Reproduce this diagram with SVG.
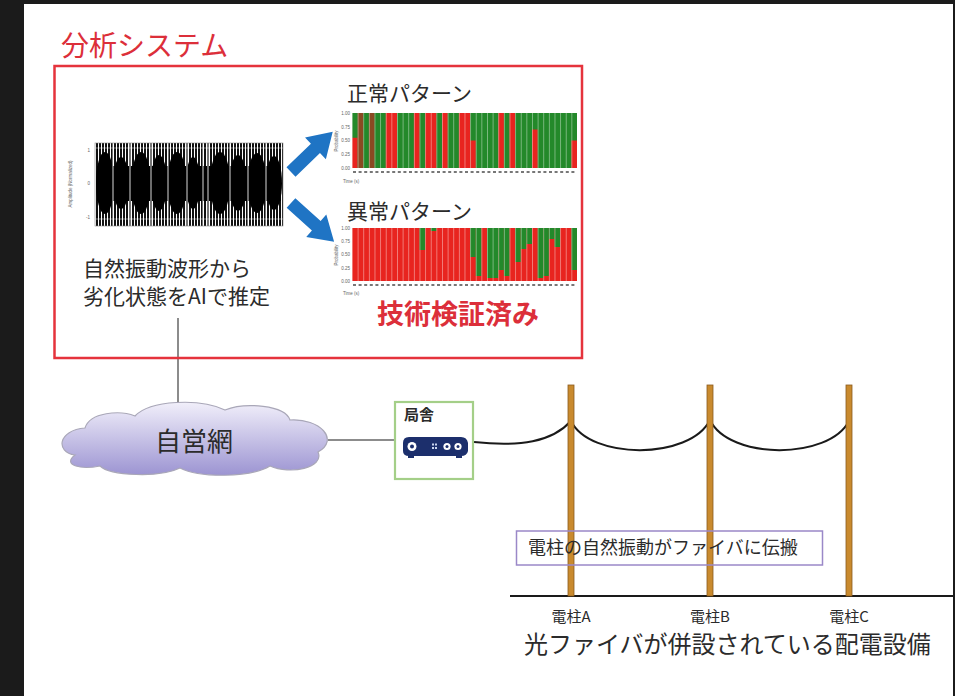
<svg xmlns="http://www.w3.org/2000/svg" width="955" height="696" viewBox="0 0 955 696">
  <defs>
    <style>
      .jp { font-family: "Noto Sans CJK JP", "Noto Sans", sans-serif; }
      .dark { fill: #2b2b2b; }
      .red { fill: #dc2f3a; }
      .tick { font-family: "Liberation Sans", sans-serif; font-size: 4.5px; fill: #666; }
      .pole { fill: #c98a2e; stroke: #8a5a1e; stroke-width: 0.8; }
      .conn { fill: none; stroke: #666; stroke-width: 1.5; }
      .wire { fill: none; stroke: #1a1a1a; stroke-width: 2; }
      .g { fill: #23892a; }
      .r { fill: #e8241f; }
      .br { fill: #8a4a22; }
    </style>
    <pattern id="stripes" width="3" height="10" patternUnits="userSpaceOnUse">
      <rect x="0" y="0" width="2" height="10" fill="#111"/>
    </pattern>
    <pattern id="colsep" x="352" width="5.625" height="10" patternUnits="userSpaceOnUse">
      <rect x="0" y="0" width="0.7" height="10" fill="#fff" opacity="0.55"/>
    </pattern>
    <linearGradient id="cloudFill" x1="0" y1="0" x2="0" y2="1">
      <stop offset="0" stop-color="#f1effa"/>
      <stop offset="1" stop-color="#9c94d2"/>
    </linearGradient>
    <!-- thick block arrow pointing along +x -->
    <polygon id="blockArrow" points="0,-6.5 34,-6.5 34,-15 58,0 34,15 34,6.5 0,6.5"/>
  </defs>

  <!-- frame -->
  <rect x="0" y="0" width="955" height="696" fill="#1b1b1b"/>
  <rect x="24" y="4" width="929" height="692" fill="#ffffff"/>

  <!-- connectors -->
  <g id="connectors">
    <line class="conn" x1="178" y1="318" x2="178" y2="412"/>
    <line class="conn" x1="328" y1="440" x2="395" y2="440"/>
    <path class="wire" d="M474,442 C520,447 552,442 571,421"/>
    <path class="wire" d="M571,421 C590,460 690,460 710,420"/>
    <path class="wire" d="M710,420 C729,460 829,460 849,421"/>
  </g>

  <!-- analysis system -->
  <g id="analysis-system">
    <text class="jp red" x="61" y="56" font-size="28">分析システム</text>
    <rect x="54.5" y="66" width="527.5" height="292" fill="none" stroke="#e5333c" stroke-width="2.5"/>
  </g>

  <!-- waveform -->
  <g id="waveform">
    <text class="tick" transform="translate(72,184) rotate(-90)" text-anchor="middle">Amplitude (Normalized)</text>
    <text class="tick" x="90" y="151.5" text-anchor="end">1</text>
    <text class="tick" x="90" y="185" text-anchor="end">0</text>
    <text class="tick" x="90" y="219" text-anchor="end">-1</text>
    <rect x="95" y="143" width="188" height="83" fill="url(#stripes)"/>
    <g fill="#000">
      <rect x="97" y="166" width="184" height="35"/>
      <ellipse cx="105" cy="183" rx="9" ry="31"/>
      <ellipse cx="121" cy="183" rx="8" ry="26"/>
      <ellipse cx="141" cy="183" rx="9.5" ry="31"/>
      <ellipse cx="159" cy="183" rx="8" ry="28"/>
      <ellipse cx="177" cy="183" rx="9.5" ry="31"/>
      <ellipse cx="193" cy="183" rx="7" ry="26"/>
      <ellipse cx="220" cy="183" rx="10" ry="31"/>
      <ellipse cx="238" cy="183" rx="8.5" ry="28"/>
      <ellipse cx="257" cy="183" rx="9.5" ry="30"/>
      <ellipse cx="274" cy="183" rx="8" ry="27"/>
    </g>
    <g stroke="#fff" stroke-width="1" opacity="0.85">
      <line x1="113" y1="143" x2="113" y2="226"/>
      <line x1="130" y1="143" x2="130" y2="226"/>
      <line x1="151" y1="143" x2="151" y2="226"/>
      <line x1="168" y1="143" x2="168" y2="226"/>
      <line x1="187" y1="143" x2="187" y2="226"/>
      <line x1="203" y1="143" x2="203" y2="226"/>
      <line x1="208" y1="143" x2="208" y2="226"/>
      <line x1="230" y1="143" x2="230" y2="226"/>
      <line x1="248" y1="143" x2="248" y2="226"/>
      <line x1="266" y1="143" x2="266" y2="226"/>
    </g>
    <g stroke="#fff" stroke-width="0.8" opacity="0.6">
      <line x1="95" y1="148" x2="283" y2="148"/>
      <line x1="95" y1="219" x2="283" y2="219"/>
    </g>
    <rect x="95" y="143" width="188" height="83" fill="none" stroke="#888" stroke-width="0.6"/>
    <text class="jp dark" x="83" y="276" font-size="21">自然振動波形から</text>
    <text class="jp dark" x="83" y="304" font-size="21">劣化状態をAIで推定</text>
  </g>

  <!-- arrows -->
  <g id="arrows" fill="#1f74c4">
    <use href="#blockArrow" transform="translate(291,172) rotate(-44)"/>
    <use href="#blockArrow" transform="translate(291,203) rotate(42)"/>
  </g>

  <!-- normal pattern chart -->
  <g id="normal-pattern">
    <text class="jp dark" x="347" y="101" font-size="21">正常パターン</text>
    <text class="tick" transform="translate(338,141) rotate(-90)" text-anchor="middle">Probability</text>
    <text class="tick" x="350" y="115" text-anchor="end">1.00</text>
    <text class="tick" x="350" y="128.5" text-anchor="end">0.75</text>
    <text class="tick" x="350" y="142" text-anchor="end">0.50</text>
    <text class="tick" x="350" y="156" text-anchor="end">0.25</text>
    <text class="tick" x="350" y="169.5" text-anchor="end">0.00</text>
    <rect class="g" x="352" y="113" width="225" height="55"/>
    <rect class="r" x="352" y="137.75" width="5.625" height="30.25"/>
    <rect class="br" x="357.625" y="113" width="5.625" height="55"/>
    <rect class="br" x="368.875" y="113" width="5.625" height="55"/>
    <rect class="r" x="385.75" y="113" width="11.25" height="55"/>
    <rect class="r" x="413.875" y="113" width="5.625" height="55"/>
    <rect class="r" x="425.125" y="113" width="11.25" height="55"/>
    <rect class="r" x="442" y="113" width="5.625" height="55"/>
    <rect class="r" x="458.875" y="113" width="11.25" height="55"/>
    <rect class="r" x="470.125" y="140.5" width="5.625" height="27.5"/>
    <rect class="r" x="498.25" y="113" width="5.625" height="55"/>
    <rect class="r" x="509.5" y="113" width="5.625" height="55"/>
    <rect class="r" x="532" y="129.5" width="5.625" height="38.5"/>
    <rect class="r" x="571.375" y="140.5" width="5.625" height="27.5"/>
    <rect x="352" y="113" width="225" height="55" fill="url(#colsep)"/>
    <line x1="353" y1="172" x2="577" y2="172" stroke="#777" stroke-width="2" stroke-dasharray="3,2.6"/>
    <text class="tick" x="343" y="183">Time (s)</text>
  </g>

  <!-- abnormal pattern chart -->
  <g id="abnormal-pattern">
    <text class="jp dark" x="347" y="219" font-size="21">異常パターン</text>
    <text class="tick" transform="translate(338,255) rotate(-90)" text-anchor="middle">Probability</text>
    <text class="tick" x="350" y="230" text-anchor="end">1.00</text>
    <text class="tick" x="350" y="243" text-anchor="end">0.75</text>
    <text class="tick" x="350" y="256" text-anchor="end">0.50</text>
    <text class="tick" x="350" y="269.5" text-anchor="end">0.25</text>
    <text class="tick" x="350" y="282.5" text-anchor="end">0.00</text>
    <rect class="r" x="352" y="228" width="225" height="53"/>
    <rect class="g" x="419.5" y="228" width="5.625" height="22"/>
    <rect class="g" x="430.75" y="228" width="5.625" height="3"/>
    <rect class="g" x="470.125" y="228" width="5.625" height="29"/>
    <rect class="g" x="475.75" y="228" width="5.625" height="48"/>
    <rect class="g" x="487" y="228" width="11.25" height="50"/>
    <rect class="g" x="498.25" y="228" width="5.625" height="42"/>
    <rect class="g" x="503.875" y="228" width="5.625" height="48"/>
    <rect class="g" x="515.125" y="228" width="5.625" height="34"/>
    <rect class="g" x="520.75" y="228" width="5.625" height="21"/>
    <rect class="g" x="526.375" y="228" width="5.625" height="16"/>
    <rect class="g" x="537.625" y="228" width="5.625" height="50"/>
    <rect class="g" x="543.25" y="228" width="5.625" height="48"/>
    <rect class="g" x="548.875" y="228" width="5.625" height="11"/>
    <rect class="g" x="554.5" y="228" width="5.625" height="19"/>
    <rect class="g" x="571.375" y="228" width="5.625" height="42"/>
    <rect x="352" y="228" width="225" height="53" fill="url(#colsep)"/>
    <line x1="353" y1="285" x2="577" y2="285" stroke="#777" stroke-width="2" stroke-dasharray="3,2.6"/>
    <text class="tick" x="343" y="295">Time (s)</text>
  </g>

  <g id="verified">
    <text class="jp red" x="377" y="324" font-size="27" font-weight="bold">技術検証済み</text>
  </g>

  <!-- private network cloud -->
  <g id="private-network">
    <path d="M75,455 C55,452 58,430 85,428 C90,412 120,410 135,416 C150,400 200,398 225,410 C245,402 285,405 290,420 C320,418 340,440 318,452 C325,468 290,475 270,466 C250,478 200,478 180,468 C160,478 110,476 100,466 C80,470 62,465 75,455 Z" fill="url(#cloudFill)" stroke="#a9a7b8" stroke-width="1.2"/>
    <text class="jp dark" x="194" y="451" font-size="26" text-anchor="middle">自営網</text>
  </g>

  <!-- central office -->
  <g id="central-office">
    <rect x="395" y="402" width="78" height="77" fill="#fff" stroke="#a4cf88" stroke-width="2.2"/>
    <text class="jp dark" x="404" y="420" font-size="15" font-weight="bold">局舎</text>
    <path d="M409,437 H461 Q467,437 468,443 V451 Q467,456 461,456 H409 Q403,456 403,451 V443 Q403,437 409,437 Z" fill="#1c2f6c"/>
    <rect x="408" y="455" width="6" height="3" fill="#1c2f6c"/>
    <rect x="456" y="455" width="6" height="3" fill="#1c2f6c"/>
    <circle cx="412" cy="446.5" r="4.5" fill="#fff"/>
    <circle cx="412" cy="446.5" r="2" fill="#1c2f6c"/>
    <g fill="#c9d6f0">
      <rect x="432" y="443.5" width="2" height="2"/>
      <rect x="435" y="443.5" width="2" height="2"/>
      <rect x="432" y="447" width="2" height="2"/>
      <rect x="435" y="447" width="2" height="2"/>
    </g>
    <circle cx="447" cy="446.5" r="3.6" fill="#fff"/>
    <circle cx="447" cy="446.5" r="1.5" fill="#1c2f6c"/>
    <circle cx="458" cy="446.5" r="3.6" fill="#fff"/>
    <circle cx="458" cy="446.5" r="1.5" fill="#1c2f6c"/>
  </g>

  <!-- ground -->
  <line x1="510" y1="596" x2="953" y2="596" stroke="#1a1a1a" stroke-width="2"/>

  <!-- utility poles -->
  <g id="pole-a">
    <rect class="pole" x="568" y="385" width="6" height="211"/>
    <text class="jp dark" x="571" y="622" font-size="15" text-anchor="middle">電柱A</text>
  </g>
  <g id="pole-b">
    <rect class="pole" x="707" y="385" width="6" height="211"/>
    <text class="jp dark" x="710" y="622" font-size="15" text-anchor="middle">電柱B</text>
  </g>
  <g id="pole-c">
    <rect class="pole" x="846" y="385" width="6" height="211"/>
    <text class="jp dark" x="849" y="622" font-size="15" text-anchor="middle">電柱C</text>
  </g>

  <g id="vibration-note">
    <rect x="516.5" y="531" width="306" height="34" fill="none" stroke="#9a88c8" stroke-width="1.5"/>
    <text class="jp dark" x="528" y="554" font-size="18">電柱の自然振動がファイバに伝搬</text>
  </g>

  <g id="caption">
    <text class="jp dark" x="524" y="653" font-size="24">光ファイバが併設されている配電設備</text>
  </g>
</svg>
